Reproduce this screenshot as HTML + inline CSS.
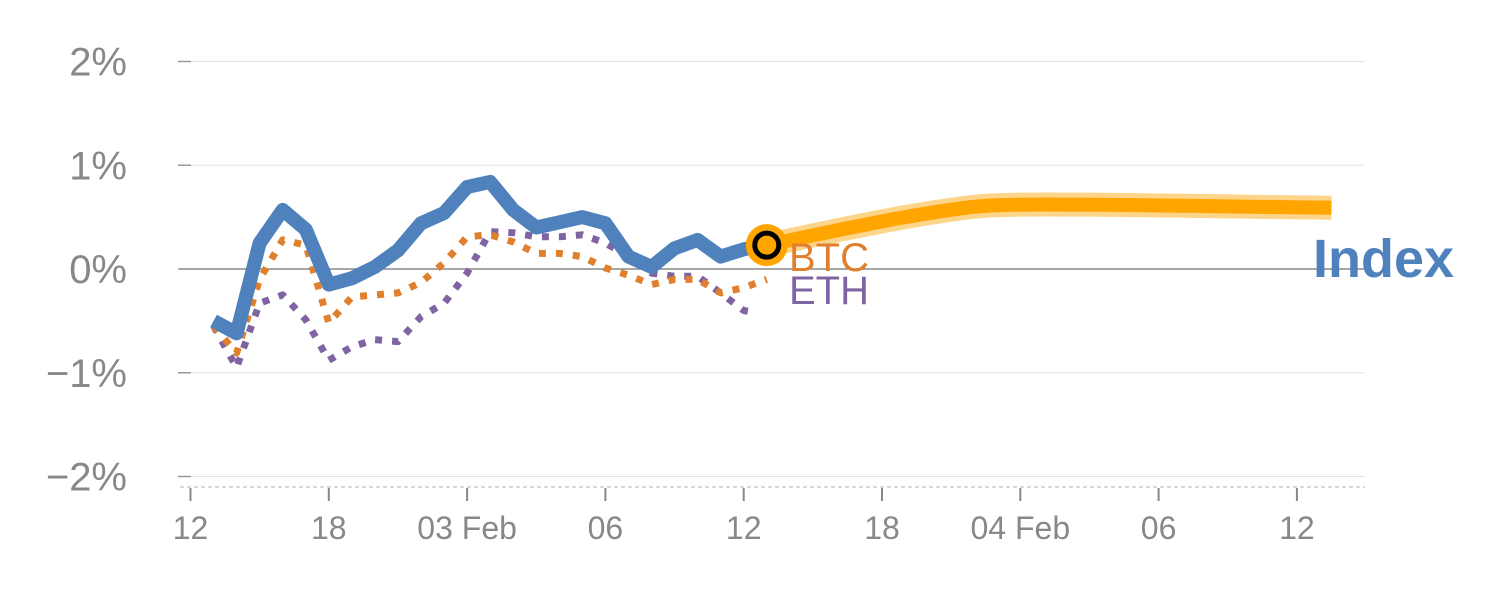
<!DOCTYPE html>
<html><head><meta charset="utf-8"><style>
html,body{margin:0;padding:0;background:#fff;}
svg{display:block;font-family:"Liberation Sans",Arial,sans-serif;}
</style></head><body>
<svg id="chart" width="1500" height="600" viewBox="0 0 1500 600" xmlns="http://www.w3.org/2000/svg">
<g id="grid"></g>
<g id="yaxis"></g>
<g id="xaxis"></g>
<g id="series"></g>
<g id="labels"></g>
</svg>
<script>
const yTicks = [2, 1, 0, -1, -2];
const yTickLabels = ["2%", "1%", "0%", "\u22121%", "\u22122%"];
const xTicks = [0, 6, 12, 18, 24, 30, 36, 42, 48];
const xTickLabels = ["12", "18", "03 Feb", "06", "12", "18", "04 Feb", "06", "12"];
const histIdx = [1,2,3,4,5,6,7,8,9,10,11,12,13,14,15,16,17,18,19,20,21,22,23,24,25];
const ethIdx = [1,2,3,4,5,6,7,8,9,10,11,12,13,14,15,16,17,18,19,20,21,22,23,24,24.5];
const indexVals = [-0.50,-0.62,0.25,0.57,0.38,-0.15,-0.09,0.02,0.18,0.44,0.54,0.79,0.84,0.57,0.40,0.45,0.50,0.44,0.12,0.02,0.20,0.28,0.12,0.19,0.23];
const btcVals = [-0.55,-0.81,-0.10,0.28,0.23,-0.52,-0.27,-0.25,-0.23,-0.13,0.06,0.31,0.33,0.26,0.15,0.15,0.12,0.01,-0.06,-0.15,-0.10,-0.10,-0.23,-0.18,-0.10];
const ethVals = [-0.55,-0.95,-0.33,-0.25,-0.49,-0.88,-0.75,-0.68,-0.70,-0.46,-0.33,-0.04,0.36,0.35,0.31,0.31,0.33,0.25,0.12,-0.04,-0.07,-0.07,-0.23,-0.40,-0.42];
const fcIdx = [25,28,31,34,36,39,43,46,49.5];
const fcVals = [0.23,0.37,0.50,0.60,0.62,0.62,0.61,0.60,0.59];

const NS = "http://www.w3.org/2000/svg";
function xS(i){ return 190.5 + i * 138.3 / 6; }
function yS(v){ return 269 - v * 103.75; }
function mk(tag, attrs, parent){
  const e = document.createElementNS(NS, tag);
  for (const k in attrs) e.setAttribute(k, attrs[k]);
  parent.appendChild(e); return e;
}
const grid = document.getElementById('grid');
const yax = document.getElementById('yaxis');
const xax = document.getElementById('xaxis');
const ser = document.getElementById('series');
const lab = document.getElementById('labels');

yTicks.forEach((v, i) => {
  const y = yS(v);
  const g = mk('line', {x1:180, x2:1365, y1:y, y2:y, stroke: v===0 ? '#888' : '#e3e3e3', 'stroke-width': v===0 ? 1.5 : 1}, grid);
  
  
  const t = mk('line', {x1:178, x2:191, y1:y, y2:y, stroke:'#999', 'stroke-width':1.5}, yax);
  
  
  const tx = mk('text', {x:127, y:y+14, 'text-anchor':'end', 'font-size':40, fill:'#888'}, yax);
  
  
  tx.textContent = yTickLabels[i];
});
const ax = mk('line', {x1:180, x2:1365, y1:487, y2:487, stroke:'#ccc', 'stroke-width':1.5, 'stroke-dasharray':'4 3'}, xax);


xTicks.forEach((v, i) => {
  const x = xS(v);
  const t = mk('line', {x1:x, x2:x, y1:488, y2:501, stroke:'#888', 'stroke-width':2}, xax);
  
  
  const tx = mk('text', {x:x, y:539, 'text-anchor':'middle', 'font-size':32, fill:'#888'}, xax);
  
  
  tx.textContent = xTickLabels[i];
});
function pts(idx, vals){ return idx.map((i, k) => xS(i).toFixed(1) + ',' + yS(vals[k]).toFixed(1)).join(' '); }
function smoothPath(idx, vals){
  const p = idx.map((i,k)=>[xS(i), yS(vals[k])]);
  let d = 'M' + p[0][0] + ',' + p[0][1];
  for (let k=0;k<p.length-1;k++){
    const p0 = p[k-1]||p[k], p1=p[k], p2=p[k+1], p3=p[k+2]||p2;
    const c1x=p1[0]+(p2[0]-p0[0])/6, c1y=p1[1]+(p2[1]-p0[1])/6;
    const c2x=p2[0]-(p3[0]-p1[0])/6, c2y=p2[1]-(p3[1]-p1[1])/6;
    d += ' C'+c1x+','+c1y+' '+c2x+','+c2y+' '+p2[0]+','+p2[1];
  }
  return d;
}
const eth = mk('polyline', {points:pts(ethIdx, ethVals), fill:'none', stroke:'#8064a2', 'stroke-width':7, 'stroke-dasharray':'7 10', 'stroke-linejoin':'round'}, ser);


const btc = mk('polyline', {points:pts(histIdx, btcVals), fill:'none', stroke:'#e0802e', 'stroke-width':7, 'stroke-dasharray':'7 10', 'stroke-linejoin':'round'}, ser);


const idxl = mk('polyline', {points:pts(histIdx, indexVals), fill:'none', stroke:'#4f81bd', 'stroke-width':14, 'stroke-linejoin':'round'}, ser);


const fd = smoothPath(fcIdx, fcVals);
const band = mk('path', {d:fd, fill:'none', stroke:'#fcd48a', 'stroke-width':24, 'stroke-linecap':'butt'}, ser);


const fc = mk('path', {d:fd, fill:'none', stroke:'#ffa500', 'stroke-width':14}, ser);


const cx = xS(histIdx[histIdx.length-1]), cy = yS(indexVals[indexVals.length-1]);
const c1 = mk('circle', {cx:cx, cy:cy, r:21, fill:'#ffa500'}, ser);


const c2 = mk('circle', {cx:cx, cy:cy, r:12, fill:'#ffa500', stroke:'#000', 'stroke-width':5}, ser);


const lb = mk('text', {x:789, y:271, 'font-size':40, fill:'#e0802e'}, lab);


lb.textContent = 'BTC';
const le = mk('text', {x:789, y:304, 'font-size':40, fill:'#8064a2'}, lab);


le.textContent = 'ETH';
const li = mk('text', {x:1313, y:277, 'font-size':54, 'font-weight':'bold', fill:'#4f81bd'}, lab);


li.textContent = 'Index';
</script>
</body></html>
